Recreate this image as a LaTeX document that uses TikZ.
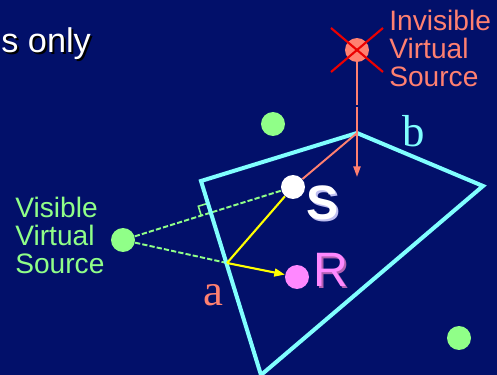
\documentclass[tikz,border=0pt]{standalone}
\usepackage{fontspec}
\setmainfont{Liberation Sans}
\newfontfamily\labelserif{Liberation Serif}
\usetikzlibrary{
    arrows.meta,
    calc
}
\definecolor{slidebg}{RGB}{2,16,106}
\definecolor{wallcyan}{RGB}{128,255,255}
\definecolor{imgsalmon}{RGB}{255,128,112}
\definecolor{crossred}{RGB}{235,0,0}
\definecolor{srcgreen}{RGB}{144,255,136}
\definecolor{rcvpink}{RGB}{255,136,255}
\definecolor{rayyellow}{RGB}{255,255,0}
\tikzset{
    % --- Source / receiver dot ---
    dot/.style = {
        circle, draw=none,
        minimum size=0.48cm, inner sep=0pt
    },
    % --- Wall outline (room polygon) ---
    wall/.style = {
        draw=wallcyan, line width=2.3pt
    },
    % --- Ray from visible image source (dashed) ---
    image ray/.style = {
        draw=srcgreen, line width=1.1pt,
        dash pattern=on 3pt off 1.2pt
    },
    % --- Reflected ray (solid yellow) ---
    ray/.style = {
        draw=rayyellow, line width=1.2pt
    },
    % --- Invisible source construction line ---
    ghost ray/.style = {
        draw=imgsalmon, line width=1.1pt
    },
    % --- Three-line caption ---
    caption/.style = {
        font=\fontsize{16}{15.9}\selectfont,
        align=left, inner sep=0pt
    },
    % --- Big point letter (S, R) ---
    point label/.style = {
        font=\fontsize{27.5}{30}\selectfont,
        inner sep=0pt, anchor=base west
    },
    % --- Edge letter (a, b) ---
    edge label/.style = {
        font=\labelserif\fontsize{25.5}{28}\selectfont,
        inner sep=0pt, anchor=base west
    }
}

\begin{document}
\begin{tikzpicture}[x=0.02cm, y=-0.02cm]

% ---------------------------------------------------------
% Background
% ---------------------------------------------------------
\fill[slidebg] (0,0) rectangle (497,375);
\useasboundingbox (0,0) rectangle (497,375);

% Title fragment with shadow
\node[font=\fontsize{19.5}{22}\selectfont, text=black, inner sep=0pt, anchor=base west] (titleshadow) at (3,55) {s only};
\node[font=\fontsize{19.5}{22}\selectfont, text=white, inner sep=0pt, anchor=base west] (title) at (1,53) {s only};

% ---------------------------------------------------------
% Room corners and points
% ---------------------------------------------------------
\coordinate (v1) at (201,181);
\coordinate (v2) at (357,133);
\coordinate (v3) at (483,186);
\coordinate (v4) at (261,375);
\coordinate (a) at (227,263);
\coordinate (drop) at (357,177);

\node[dot, fill=srcgreen] (src) at (123,240) {};
\node[dot, fill=imgsalmon] (img) at (357,50) {};
\node[dot, fill=srcgreen] (g1) at (273,124) {};
\node[dot, fill=srcgreen] (g2) at (459,338) {};

% ---------------------------------------------------------
% Rays from the visible image source
% ---------------------------------------------------------
\draw[image ray] (src) -- (293,187);
\draw[image ray] (src) -- (a);

% Right-angle mark at the foot on the wall
\coordinate (F) at ($(v1)!(src)!(v4)$);
\coordinate (m1) at ($(F)!0.2cm!(v1)$);
\coordinate (m2) at ($(F)!0.2cm!(src)$);
\draw[draw=srcgreen, line width=0.9pt] (m1) -- ($(m1)+(m2)-(F)$) -- (m2);

% ---------------------------------------------------------
% Walls
% ---------------------------------------------------------
\draw[wall] (v1) -- (v2) -- (v3) -- (v4) -- cycle;

% ---------------------------------------------------------
% Source, receiver and reflected path
% ---------------------------------------------------------
\node[dot, fill=white] (S) at (293,187) {};
\node[dot, fill=rcvpink] (R) at (297,277) {};

\draw[ray] (a) -- (S);
\draw[ray, -{Triangle[length=6pt, width=4.5pt]}] (a) -- (R);

% ---------------------------------------------------------
% Invisible image source (crossed out)
% ---------------------------------------------------------
\draw[ghost ray, dash pattern=on 24pt off 1.5pt] (img) -- (v2);
\draw[ghost ray, -{Triangle[length=6pt, width=4pt]}] (v2) -- (drop);
\draw[ghost ray] (v2) -- (S);
\draw[crossred, line width=1.2pt] ($(img)+(-26,-22)$) -- ($(img)+(26,22)$);
\draw[crossred, line width=1.2pt] ($(img)+(26,-22)$) -- ($(img)+(-26,22)$);

% ---------------------------------------------------------
% Labels
% ---------------------------------------------------------
\node[caption, text=imgsalmon, anchor=north west] (imgtext) at (389,10) {Invisible\\Virtual\\Source};
\node[caption, text=srcgreen, anchor=north west] (srctext) at (15,197) {Visible\\Virtual\\Source};

\node[point label, font=\bfseries\fontsize{27.5}{30}\selectfont, text=black!20!blue!25!white] (Sshadow) at (308,221) {S};
\node[point label, font=\bfseries\fontsize{27.5}{30}\selectfont, text=white] (Stext) at (306,219) {S};
\node[point label, text=rcvpink!70!black] (Rshadow) at (315,288) {R};
\node[point label, text=rcvpink] (Rtext) at (313,286) {R};

\node[edge label, text=imgsalmon] (alabel) at (203,305) {a};
\node[edge label, text=wallcyan] (blabel) at (402,147) {b};

\end{tikzpicture}
\end{document}
